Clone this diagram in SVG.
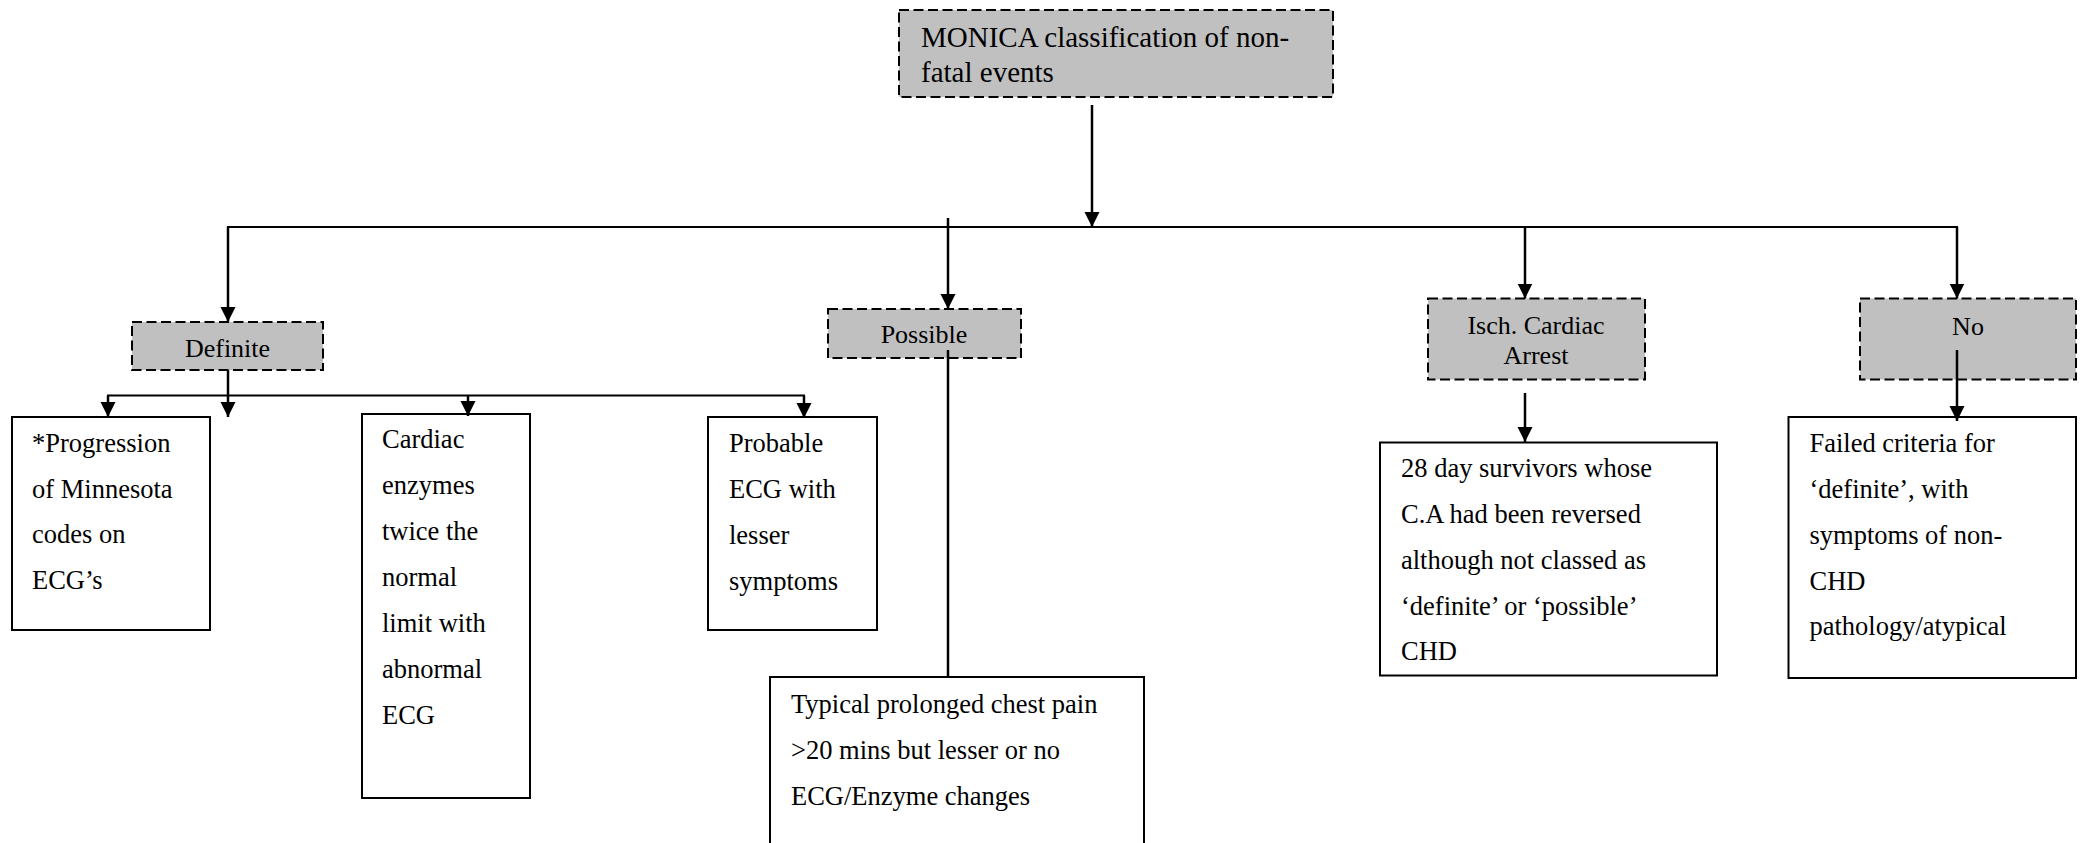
<svg xmlns="http://www.w3.org/2000/svg" width="2083" height="843" viewBox="0 0 2083 843">
<style>
  .grey { fill: #c0c0c0; stroke: #000; stroke-width: 2; stroke-dasharray: 10 4.5; }
  .box { fill: #fff; stroke: #000; stroke-width: 2; }
  .t { font-family: "Liberation Serif", "Times New Roman", serif; font-size: 26.5px; fill: #000; }
  .h { font-family: "Liberation Serif", "Times New Roman", serif; font-size: 26px; fill: #000; }
  .title { font-family: "Liberation Serif", "Times New Roman", serif; font-size: 29px; fill: #000; }
  .c { fill: none; stroke: #000; stroke-width: 2; }
  .v { fill: none; stroke: #000; stroke-width: 2.5; }
  .a { marker-end: url(#arr); }
</style>
<defs>
  <marker id="arr" markerUnits="userSpaceOnUse" markerWidth="17" markerHeight="17" refX="15" refY="7.5" orient="auto">
    <path d="M0,0 L15,7.5 L0,15 z" fill="#000"/>
  </marker>
</defs>
<rect width="2083" height="843" fill="#fff"/>

<g id="node-root">
  <rect class="grey" x="899" y="10" width="434" height="87"/>
  <text class="title" x="921" y="46.5">MONICA classification of non-</text>
  <text class="title" x="921" y="81.5">fatal events</text>
</g>

<g id="node-definite">
  <rect class="grey" x="132" y="322" width="191" height="48"/>
  <text class="h" x="227.5" y="356.5" text-anchor="middle">Definite</text>
</g>

<g id="node-possible">
  <rect class="grey" x="828" y="309" width="193" height="49"/>
  <text class="h" x="924" y="343" text-anchor="middle">Possible</text>
</g>

<g id="node-isch">
  <rect class="grey" x="1428" y="298.5" width="217" height="81"/>
  <text class="h" x="1536" y="333.5" text-anchor="middle">Isch. Cardiac</text>
  <text class="h" x="1536" y="363.5" text-anchor="middle">Arrest</text>
</g>

<g id="node-no">
  <rect class="grey" x="1860" y="298.5" width="216" height="81"/>
  <text class="h" x="1968" y="335" text-anchor="middle">No</text>
</g>

<g id="node-progression">
  <rect class="box" x="12" y="417" width="198" height="213"/>
  <text class="t" x="32" y="451.5">*Progression</text>
  <text class="t" x="32" y="497.5">of Minnesota</text>
  <text class="t" x="32" y="543">codes on</text>
  <text class="t" x="32" y="589">ECG’s</text>
</g>

<g id="node-enzymes">
  <rect class="box" x="362" y="414" width="168" height="384"/>
  <text class="t" x="382" y="448">Cardiac</text>
  <text class="t" x="382" y="494">enzymes</text>
  <text class="t" x="382" y="540">twice the</text>
  <text class="t" x="382" y="586">normal</text>
  <text class="t" x="382" y="632">limit with</text>
  <text class="t" x="382" y="678">abnormal</text>
  <text class="t" x="382" y="724">ECG</text>
</g>

<g id="node-probable">
  <rect class="box" x="708" y="417" width="169" height="213"/>
  <text class="t" x="729" y="451.5">Probable</text>
  <text class="t" x="729" y="497.5">ECG with</text>
  <text class="t" x="729" y="543.5">lesser</text>
  <text class="t" x="729" y="589.5">symptoms</text>
</g>

<g id="node-typical">
  <rect class="box" x="770" y="677" width="374" height="180"/>
  <text class="t" x="791" y="713">Typical prolonged chest pain</text>
  <text class="t" x="791" y="759">&gt;20 mins but lesser or no</text>
  <text class="t" x="791" y="805">ECG/Enzyme changes</text>
</g>

<g id="node-survivors">
  <rect class="box" x="1380" y="442.5" width="337" height="233"/>
  <text class="t" x="1401" y="477">28 day survivors whose</text>
  <text class="t" x="1401" y="522.5">C.A had been reversed</text>
  <text class="t" x="1401" y="568.5">although not classed as</text>
  <text class="t" x="1401" y="614.5">‘definite’ or ‘possible’</text>
  <text class="t" x="1401" y="660">CHD</text>
</g>

<g id="node-failed">
  <rect class="box" x="1788.5" y="417" width="287.5" height="261"/>
  <text class="t" x="1809.5" y="451.5">Failed criteria for</text>
  <text class="t" x="1809.5" y="498">‘definite’, with</text>
  <text class="t" x="1809.5" y="543.5">symptoms of non-</text>
  <text class="t" x="1809.5" y="590">CHD</text>
  <text class="t" x="1809.5" y="635">pathology/atypical</text>
</g>

<g id="connectors">
  <line class="v a" x1="1092" y1="105" x2="1092" y2="227"/>
  <line class="c" x1="227" y1="227" x2="1958" y2="227"/>
  <line class="v a" x1="228" y1="227" x2="228" y2="322"/>
  <line class="v a" x1="948" y1="218" x2="948" y2="309"/>
  <line class="v a" x1="1525" y1="227" x2="1525" y2="298.5"/>
  <line class="v a" x1="1957" y1="227" x2="1957" y2="298.5"/>
  <line class="v a" x1="228" y1="370" x2="228" y2="417"/>
  <line class="c" x1="107" y1="395.5" x2="805" y2="395.5"/>
  <line class="v a" x1="108" y1="395.5" x2="108" y2="417"/>
  <line class="v a" x1="468" y1="395.5" x2="468" y2="416"/>
  <line class="v a" x1="804" y1="395.5" x2="804" y2="418"/>
  <line class="v" x1="948" y1="350" x2="948" y2="677"/>
  <line class="v a" x1="1525" y1="393" x2="1525" y2="442"/>
  <line class="v a" x1="1957" y1="350" x2="1957" y2="421"/>
</g>
</svg>
